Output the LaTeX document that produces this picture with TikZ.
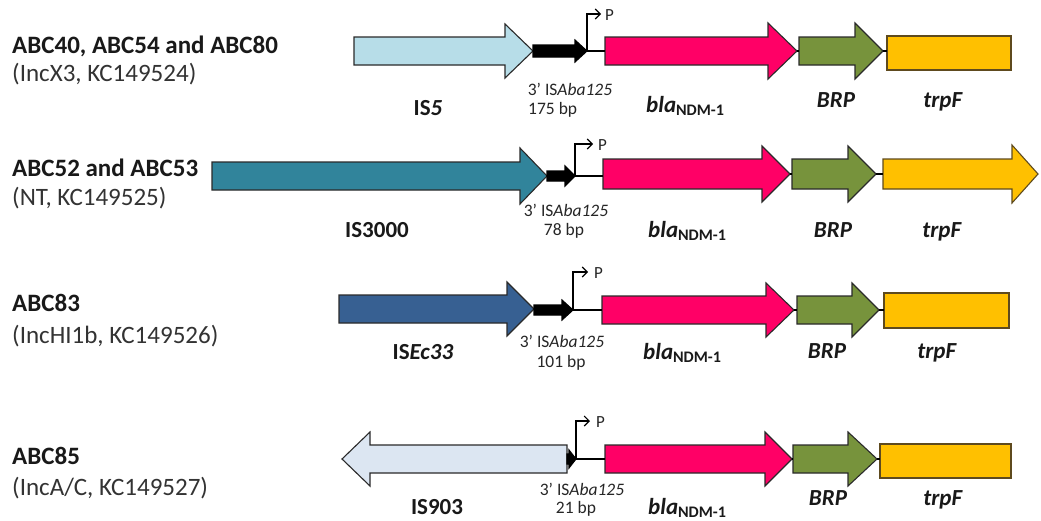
\documentclass[tikz,border=0pt]{standalone}
\usepackage{fontspec}
\setmainfont{Carlito}
\usetikzlibrary{arrows.meta}

\definecolor{isfive}{HTML}{B7DDE8}
\definecolor{isthree}{HTML}{31849B}
\definecolor{isec}{HTML}{376092}
\definecolor{isnine}{HTML}{DCE6F2}
\definecolor{ndm}{HTML}{FF0066}
\definecolor{brp}{HTML}{77933C}
\definecolor{trp}{HTML}{FFC000}
\definecolor{edge}{HTML}{2A2A2A}
\definecolor{trpedge}{HTML}{5E4A1E}

\tikzset{
  geneshape/.style={draw=edge, line width=1.1pt, line join=miter},
  remnantshape/.style={geneshape, draw=black, fill=black},
  link/.style={line width=2.3pt, black},
  promoter/.style={line width=1.1pt, black,
    -{Straight Barb[length=5pt,width=10pt,line width=1.1pt]}},
  straintitle/.style={anchor=base west, inner sep=0, text=black!90,
    font=\fontsize{25}{30}\selectfont\bfseries},
  straininfo/.style={anchor=base west, inner sep=0, text=black!80,
    font=\fontsize{25}{30}\selectfont},
  genelabel/.style={anchor=base, inner sep=0, text=black!90,
    font=\fontsize{23}{27}\selectfont\bfseries},
  blalabel/.style={genelabel, anchor=base west},
  remnantlabel/.style={anchor=base, inner sep=0, text=black!85,
    font=\fontsize{17.5}{21}\selectfont},
  plabel/.style={anchor=base west, inner sep=0, text=black!85,
    font=\fontsize{17}{20}\selectfont},
}

% forward gene: name, start, head base, tip, centre y, body half height, head half height, style
\newcommand\fwdgene[8]{%
  \draw[geneshape,#8] ({#2},{#5-#6}) -- ({#3},{#5-#6}) -- ({#3},{#5-#7})
    -- ({#4},{#5}) -- ({#3},{#5+#7}) -- ({#3},{#5+#6}) -- ({#2},{#5+#6}) -- cycle;
  \coordinate (#1-s) at ({#2},{#5});
  \coordinate (#1-e) at ({#4},{#5});
}
% reverse gene: name, tip, head base, end, centre y, body half height, head half height, style
\newcommand\revgene[8]{%
  \draw[geneshape,#8] ({#4},{#5-#6}) -- ({#3},{#5-#6}) -- ({#3},{#5-#7})
    -- ({#2},{#5}) -- ({#3},{#5+#7}) -- ({#3},{#5+#6}) -- ({#4},{#5+#6}) -- cycle;
  \coordinate (#1-s) at ({#2},{#5});
  \coordinate (#1-e) at ({#4},{#5});
}
% box gene: name, left, right, centre y, half height, style
\newcommand\boxgene[6]{%
  \draw[geneshape,#6] ({#2},{#4-#5}) rectangle ({#3},{#4+#5});
  \coordinate (#1-s) at ({#2},{#4});
  \coordinate (#1-e) at ({#3},{#4});
}
\newcommand\blaname{\textit{bla}\textsubscript{NDM-1}}
\newcommand\remnantname{3’ IS\textit{Aba125}}

\begin{document}
\begin{tikzpicture}[x=1pt,y=-1pt]
\useasboundingbox[fill=white] (0,0) rectangle (1041,520);

% ---------- ABC40, ABC54 and ABC80 ----------
\node[straintitle] (t1) at (12,53) {ABC40, ABC54 and ABC80};
\node[straininfo]  (i1) at (12,81) {(IncX3, KC149524)};
\fwdgene{isA}{354}{505}{533}{51}{14}{27}{fill=isfive}
\fwdgene{remA}{533}{575}{587}{51}{6}{11}{remnantshape}
\fwdgene{ndmA}{605}{768}{797}{51}{14}{28}{fill=ndm}
\fwdgene{brpA}{799}{855}{883}{51}{14}{28}{fill=brp}
\boxgene{trpA}{887}{1011}{53}{17}{fill=trp,draw=trpedge}
\draw[link] (remA-e) -- (ndmA-s);
\draw[link] (ndmA-e) -- (brpA-s);
\draw[link] (brpA-e) -- (trpA-s |- brpA-e);
\coordinate (pA) at (601,14);
\draw[promoter] (remA-e) |- (pA);
\node[plabel] (PA) at (605,20) {P};
\node[genelabel] (lisA) at (428,115) {IS\textit{5}};
\node[remnantlabel] (lremA) at (570,95) {\remnantname};
\node[remnantlabel, anchor=base west] (lbpA) at (528,114) {175 bp};
\node[blalabel] (lndmA) at (646,112) {\blaname};
\node[genelabel] (lbrpA) at (836,107) {\textit{BRP}};
\node[genelabel] (ltrpA) at (943,107) {\textit{trpF}};

% ---------- ABC52 and ABC53 ----------
\node[straintitle] (t2) at (12,176) {ABC52 and ABC53};
\node[straininfo]  (i2) at (12,205) {(NT, KC149525)};
\fwdgene{isB}{212}{520}{547}{176}{14}{28}{fill=isthree}
\fwdgene{remB}{547}{565}{575}{176}{5}{10}{remnantshape}
\fwdgene{ndmB}{603}{762}{790}{174}{15}{28}{fill=ndm}
\fwdgene{brpB}{792}{848}{876}{174}{15}{28}{fill=brp}
\fwdgene{trpB}{883}{1012}{1038}{174}{15}{29}{fill=trp,draw=trpedge}
\draw[link] (remB-e) -- (ndmB-s |- remB-e);
\draw[link] (ndmB-e) -- (brpB-s);
\draw[link] (brpB-e) -- (trpB-s);
\coordinate (pB) at (593,144);
\draw[promoter] (remB-e) |- (pB);
\node[plabel] (PB) at (598,150) {P};
\node[genelabel] (lisB) at (377,237) {IS3000};
\node[remnantlabel] (lremB) at (566,216) {\remnantname};
\node[remnantlabel] (lbpB) at (564,235) {78 bp};
\node[blalabel] (lndmB) at (648,237) {\blaname};
\node[genelabel] (lbrpB) at (833,237) {\textit{BRP}};
\node[genelabel] (ltrpB) at (942,237) {\textit{trpF}};

% ---------- ABC83 ----------
\node[straintitle] (t3) at (12,311) {ABC83};
\node[straininfo]  (i3) at (12,343) {(IncHI1b, KC149526)};
\fwdgene{isC}{339}{507}{534}{309}{14}{27}{fill=isec}
\fwdgene{remC}{534}{562}{573}{310}{5}{10}{remnantshape}
\fwdgene{ndmC}{602}{766}{794}{310}{14}{27}{fill=ndm}
\fwdgene{brpC}{797}{852}{879}{310}{14}{27}{fill=brp}
\boxgene{trpC}{884}{1009}{310.5}{17.5}{fill=trp,draw=trpedge}
\draw[link] (remC-e) -- (ndmC-s);
\draw[link] (ndmC-e) -- (brpC-s);
\draw[link] (brpC-e) -- (trpC-s |- brpC-e);
\coordinate (pC) at (588,272);
\draw[promoter] (remC-e) |- (pC);
\node[plabel] (PC) at (594,278) {P};
\node[genelabel] (lisC) at (423,359) {IS\textit{Ec33}};
\node[remnantlabel] (lremC) at (562,347) {\remnantname};
\node[remnantlabel] (lbpC) at (561,367) {101 bp};
\node[blalabel] (lndmC) at (643,359) {\blaname};
\node[genelabel] (lbrpC) at (827,358) {\textit{BRP}};
\node[genelabel] (ltrpC) at (937,358) {\textit{trpF}};

% ---------- ABC85 ----------
\node[straintitle] (t4) at (12,464) {ABC85};
\node[straininfo]  (i4) at (12,495) {(IncA/C, KC149527)};
\revgene{isD}{342}{370}{567}{459}{14}{27}{fill=isnine}
\fwdgene{remD}{567}{569}{576}{459}{5}{9}{remnantshape}
\fwdgene{ndmD}{605}{765}{792}{459}{14}{27}{fill=ndm}
\fwdgene{brpD}{793}{848}{877}{459}{14}{27}{fill=brp}
\boxgene{trpD}{880}{1011}{461}{17}{fill=trp,draw=trpedge}
\draw[link] (remD-e) -- (ndmD-s);
\draw[link] (ndmD-e) -- (brpD-s);
\draw[link] (brpD-e) -- (trpD-s |- brpD-e);
\coordinate (pD) at (590,421);
\draw[promoter] (remD-e) |- (pD);
\node[plabel] (PD) at (596,427) {P};
\node[genelabel] (lisD) at (437,514) {IS903};
\node[remnantlabel] (lremD) at (582,495) {\remnantname};
\node[remnantlabel] (lbpD) at (576,513) {21 bp};
\node[blalabel] (lndmD) at (648,514) {\blaname};
\node[genelabel] (lbrpD) at (828,505) {\textit{BRP}};
\node[genelabel] (ltrpD) at (943,505) {\textit{trpF}};
\end{tikzpicture}
\end{document}
